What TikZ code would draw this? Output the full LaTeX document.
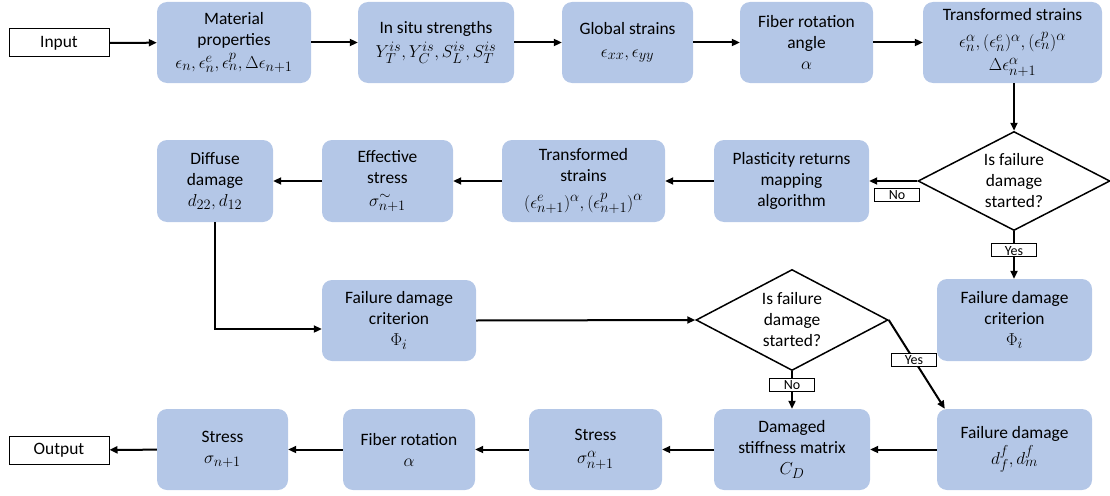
\documentclass[tikz,border=0pt]{standalone}
\usepackage{fontspec}
\setmainfont{Carlito}
\usetikzlibrary{shapes.geometric, arrows.meta}
\definecolor{boxblue}{RGB}{180,199,231}
\DeclareMathSizes{17.4}{19}{14}{11}

\begin{document}
\begin{tikzpicture}[x=1pt, y=-1pt, >={Triangle[length=8pt, width=7pt]},
    font=\fontsize{17.4}{21}\selectfont,
    block/.style={rectangle, rounded corners=10pt, fill=boxblue, align=center, inner sep=0pt, minimum height=81pt},
    io/.style={rectangle, draw, line width=1pt, minimum width=100pt, minimum height=28pt, inner sep=0pt},
    decision/.style={diamond, draw, line width=1.5pt, aspect=2, align=center, inner sep=0pt,
        minimum width=192pt, minimum height=99pt},
    tagbox/.style={rectangle, draw, fill=white, line width=0.8pt, minimum width=45pt, minimum height=13pt,
        inner sep=0pt, text height=9.5pt, text depth=0pt, font=\fontsize{14}{14}\selectfont},
    flow/.style={->, line width=2pt}]
    \useasboundingbox (0,0) rectangle (1110,495);

    % Top row
    \node[io] (input) at (59,43) {Input};
    \node[block, minimum width=154pt] (mat) at (234,42.5) {Material\\properties\\[2pt]$\epsilon_n, \epsilon_n^e, \epsilon_n^p, \Delta\epsilon_{n+1}$};
    \node[block, minimum width=156pt] (insitu) at (436,42.5) {In situ strengths\\[3pt]$Y_T^{is}, Y_C^{is}, S_L^{is}, S_T^{is}$};
    \node[block, minimum width=131pt] (glob) at (627.5,42.5) {Global strains\\[2pt]$\epsilon_{xx}, \epsilon_{yy}$};
    \node[block, minimum width=133pt] (fib) at (806.5,42.5) {Fiber rotation\\angle\\$\alpha$};
    \node[block, minimum width=179pt] (trans) at (1012.5,42.5) {Transformed strains\\[6pt]$\epsilon_n^\alpha, (\epsilon_n^e)^\alpha, \bigl(\epsilon_n^p\bigr)^\alpha$\\[2pt]$\Delta\epsilon_{n+1}^\alpha$};

    % Second row
    \node[block, minimum width=116pt, minimum height=82pt] (diff) at (215,181) {Diffuse\\damage\\$d_{22}, d_{12}$};
    \node[block, minimum width=131pt, minimum height=82pt] (eff) at (387.5,181) {Effective\\stress\\[2pt]$\sigma_{n+1}^{\sim}$};
    \node[block, minimum width=163pt, minimum height=82pt] (trans2) at (583.5,181) {Transformed\\strains\\[6pt]$(\epsilon_{n+1}^e)^\alpha, \bigl(\epsilon_{n+1}^p\bigr)^\alpha$};
    \node[block, minimum width=155pt, minimum height=82pt] (plast) at (791.5,181) {Plasticity returns\\mapping\\algorithm};
    \node[decision] (dec1) at (1014,181) {Is failure\\damage\\started?};

    % Third row
    \node[block, minimum width=154pt] (crit) at (399,320.5) {Failure damage\\criterion\\$\Phi_i$};
    \node[decision, minimum height=101pt] (dec2) at (792,320) {Is failure\\damage\\started?};
    \node[block, minimum width=155pt, minimum height=82pt] (crit2) at (1014.5,320) {Failure damage\\criterion\\$\Phi_i$};

    % Bottom row
    \node[io] (output) at (59,450) {Output};
    \node[block, minimum width=131pt] (stress) at (222.5,449.5) {Stress\\$\sigma_{n+1}$};
    \node[block, minimum width=132pt] (fib2) at (409,449.5) {Fiber rotation\\$\alpha$};
    \node[block, minimum width=133pt] (stressa) at (595.5,449.5) {Stress\\[2pt]$\sigma_{n+1}^\alpha$};
    \node[block, minimum width=156pt] (dmg) at (792,449.5) {Damaged\\stiffness matrix\\$C_D$};
    \node[block, minimum width=155pt] (fdam) at (1014.5,449.5) {Failure damage\\[3pt]$d_f^f, d_m^f$};

    % Connectors
    \draw[flow] (input) -- (mat);
    \draw[flow] (mat) -- (insitu);
    \draw[flow] (insitu) -- (glob);
    \draw[flow] (glob) -- (fib);
    \draw[flow] (fib) -- (trans);
    \draw[flow] (dec1.north |- trans.south) -- (dec1.north);
    \draw[flow] (dec1.west) -- (plast.east) node[tagbox, pos=0.42, below=7pt] {No};
    \draw[flow] (dec1.south) -- (dec1.south |- crit2.north) node[tagbox, pos=0.4] {Yes};
    \draw[flow] (plast) -- (trans2);
    \draw[flow] (trans2) -- (eff);
    \draw[flow] (eff) -- (diff);
    \draw[flow] (diff.south) |- ([yshift=-8.5pt]crit.west);
    \draw[flow] (crit.east) -- (dec2.west);
    \draw[flow] (dec2.south) -- (dmg.north) node[tagbox, pos=0.36] {No};
    \draw[flow] (dec2.east) -- ([xshift=8pt]fdam.north west) node[tagbox, pos=0.45] {Yes};
    \draw[flow] (fdam) -- (dmg);
    \draw[flow] (dmg) -- (stressa);
    \draw[flow] (stressa) -- (fib2);
    \draw[flow] (fib2) -- (stress);
    \draw[flow] (stress) -- (output);
\end{tikzpicture}
\end{document}
